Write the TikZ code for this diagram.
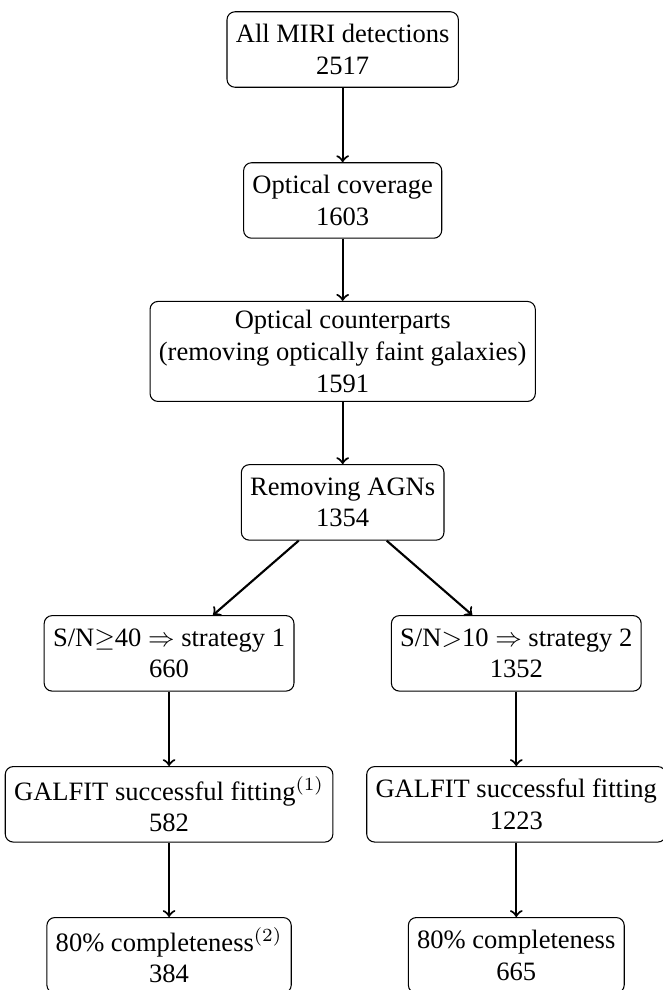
\documentclass[tikz,border=0pt]{standalone}
\usepackage{fontspec}
\setmainfont{Liberation Serif}
\begin{document}
\begin{tikzpicture}[stage/.style={draw,rounded corners=3pt,align=center,minimum height=1cm}]
  \useasboundingbox (-4.54,0.656) rectangle (4.24,-12.46); % Margen
  \node[stage] (miri) at (0,0) {All MIRI detections\\2517};
  \node[stage] (cov) at (0,-2) {Optical coverage\\1603};
  \node[stage] (cpt) at (0,-4) {Optical counterparts\\(removing optically faint galaxies)\\1591};
  \node[stage] (agn) at (0,-6) {Removing AGNs\\1354};
  \node[stage] (sn1) at (-2.3,-8) {S/N$\geq$40 $\Rightarrow$ strategy 1\\660}; % Rama izq.
  \node[stage] (sn2) at (2.3,-8) {S/N$>$10 $\Rightarrow$ strategy 2\\1352}; % Rama der.
  \node[stage] (gal1) at (-2.3,-10) {GALFIT successful fitting$^{(1)}$\\582};
  \node[stage] (gal2) at (2.3,-10) {GALFIT successful fitting\\1223};
  \node[stage] (comp1) at (-2.3,-12) {80\% completeness$^{(2)}$\\384};
  \node[stage] (comp2) at (2.3,-12) {80\% completeness\\665};
  \draw[thick,->] (miri) -- (cov);
  \draw[thick,->] (cov) -- (cpt);
  \draw[thick,->] (cpt) -- (agn);
  \draw[thick,->] (agn) -- (sn1);
  \draw[thick,->] (agn) -- (sn2);
  \draw[thick,->] (sn1) -- (gal1);
  \draw[thick,->] (sn2) -- (gal2);
  \draw[thick,->] (gal1) -- (comp1);
  \draw[thick,->] (gal2) -- (comp2);
\end{tikzpicture}
\end{document}
